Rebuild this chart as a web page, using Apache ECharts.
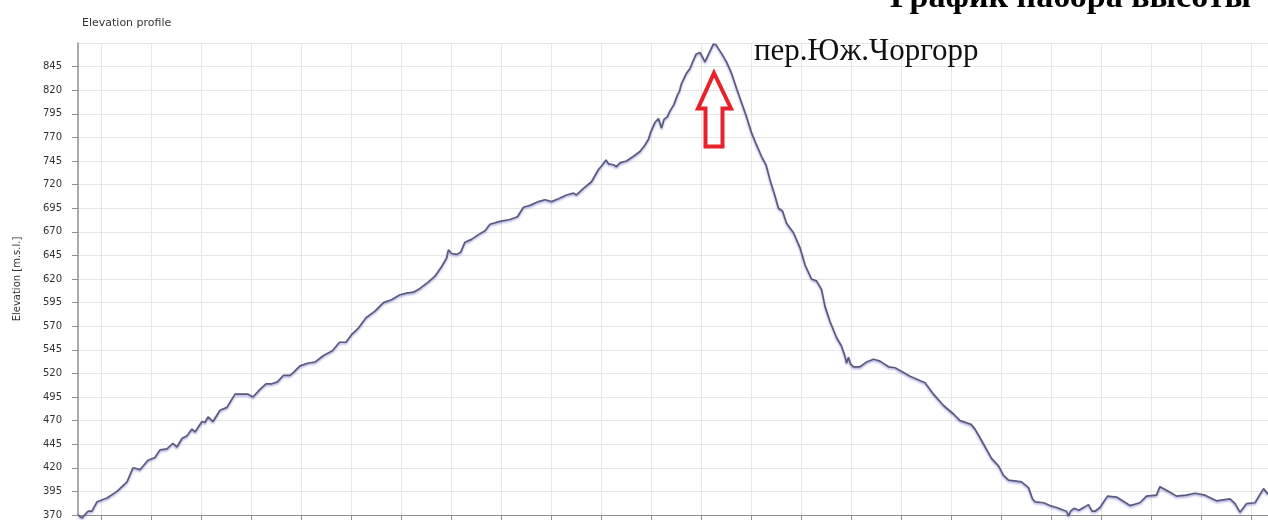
<!DOCTYPE html>
<html>
<head>
<meta charset="utf-8">
<title>Elevation profile</title>
<script src="https://cdn.jsdelivr.net/npm/echarts@6/dist/echarts.min.js"></script>
<style>
  html, body { margin: 0; padding: 0; background: #fff; overflow: hidden; }
  #chart { width: 1268px; height: 520px; }
</style>
</head>
<body>
<div id="chart"></div>
<script>
// дистанция по треку (одна клетка сетки = 1)
const distance = [
  0, 0.08, 0.2, 0.28, 0.38, 0.58, 0.78, 0.98, 1.1, 1.14, 1.24, 1.4, 1.54, 1.64, 1.78, 1.9, 1.98,
  2.08, 2.18, 2.28, 2.34, 2.48, 2.54, 2.6, 2.7, 2.84, 2.98, 3.14, 3.4, 3.5, 3.64, 3.76, 3.88, 3.99,
  4.11, 4.24, 4.31, 4.44, 4.61, 4.74, 4.91, 5.09, 5.23, 5.36, 5.47, 5.61, 5.76, 5.94,
  6.11, 6.27, 6.43, 6.57, 6.71, 6.84, 7.01, 7.14, 7.27, 7.37, 7.41, 7.47, 7.57, 7.65, 7.74, 7.87,
  8.01, 8.14, 8.24, 8.44, 8.64, 8.79, 8.91, 9.04, 9.21, 9.34, 9.47, 9.61, 9.77, 9.91, 9.97,
  10.11, 10.27, 10.41, 10.49, 10.56, 10.61, 10.71, 10.77, 10.84, 10.97, 11.11, 11.24, 11.34, 11.41,
  11.45, 11.54, 11.61, 11.67, 11.72, 11.79, 11.83, 11.87, 11.92, 11.99, 12.03, 12.07, 12.17, 12.24,
  12.31, 12.36, 12.44, 12.54, 12.61, 12.71, 12.76, 12.87, 12.97, 13.07, 13.17, 13.27, 13.37, 13.47,
  13.57, 13.67, 13.76, 13.84, 13.94, 14.01, 14.05, 14.09, 14.17, 14.31, 14.44, 14.54, 14.67, 14.77,
  14.87, 14.94, 15.04, 15.17, 15.27, 15.34, 15.37, 15.41, 15.45, 15.51, 15.64, 15.77, 15.91,
  16.04, 16.21, 16.34, 16.51, 16.64, 16.94, 17.11, 17.31, 17.51, 17.64, 17.86, 17.94,
  18.06, 18.27, 18.41, 18.51, 18.61, 18.87, 19.01, 19.09, 19.14, 19.31, 19.44, 19.57, 19.71, 19.77,
  19.81, 19.85, 19.92, 20.02, 20.11, 20.21, 20.28, 20.34, 20.44, 20.59, 20.77, 21.04, 21.24, 21.37,
  21.57, 21.64, 21.84, 21.97, 22.17, 22.34, 22.54, 22.77, 23.04, 23.14, 23.24, 23.37, 23.54, 23.71, 23.8
];
// высота, м
const elevation = [
  370, 367, 374, 374, 384, 388, 395, 405, 420, 421, 418, 428, 431, 439, 440, 446, 442,
  451, 454, 461, 458, 469, 468, 474, 469, 481, 484, 498, 498, 495, 503, 509, 509, 511,
  518, 518, 521, 528, 531, 532, 539, 544, 553, 553, 561, 568, 579, 586,
  595, 598, 603, 605, 606, 610, 617, 623, 633, 642, 651, 647, 646, 648, 659, 662,
  667, 671, 678, 681, 683, 686, 696, 698, 702, 704, 702, 705, 709, 711, 709,
  716, 723, 736, 741, 746, 742, 741, 739, 743, 745, 750, 755, 762, 768,
  775, 786, 790, 780, 789, 792, 797, 796, 805, 815, 819, 827, 838, 843,
  852, 858, 860, 850, 858, 869, 868, 859, 850, 838, 822, 807, 792, 775,
  762, 750, 741, 725, 708, 695, 697, 692, 679, 669, 653, 635, 620, 618,
  609, 591, 575, 558, 549, 538, 531, 537, 530, 527, 527, 532, 535,
  533, 527, 526, 521, 517, 510, 498, 486, 477, 470, 466, 461,
  450, 430, 422, 412, 407, 405, 399, 387, 384, 383, 380, 378, 375, 374,
  369, 374, 377, 375, 378, 381, 374, 374, 378, 390, 389, 380, 383, 390,
  391, 400, 394, 390, 391, 393, 391, 385, 387, 382, 373, 382, 383, 398, 392
];
// вертикальные линии сетки
const distTicks = [
  0.47, 1.47, 2.47, 3.47, 4.47, 5.47, 6.47, 7.47, 8.47, 9.47, 10.47, 11.47,
  12.47, 13.47, 14.47, 15.47, 16.47, 17.47, 18.47, 19.47, 20.47, 21.47, 22.47, 23.47
];
const elevMin = 370;
const elevMax = 870;
const elevStep = 25;

const chart = echarts.init(document.getElementById('chart'));

const axisColor = '#8f8f8f';
const gridColor = '#e6e6e6';

chart.setOption({
  animation: false,
  backgroundColor: '#fff',
  title: {
    text: 'Elevation profile',
    left: 77,
    top: 13,
    textStyle: { fontFamily: 'DejaVu Sans', fontSize: 11, fontWeight: 'normal', color: '#333' }
  },
  grid: { left: 78, right: 0, top: 43, bottom: 3 },
  xAxis: {
    type: 'value',
    min: 0,
    max: distance[distance.length - 1],
    axisLine: { show: true, onZero: false, lineStyle: { color: axisColor } },
    axisTick: { show: true, length: 5, customValues: distTicks, lineStyle: { color: axisColor } },
    axisLabel: { show: false },
    splitLine: { show: true, lineStyle: { color: gridColor, width: 1 } }
  },
  yAxis: {
    type: 'value',
    min: elevMin,
    max: elevMax,
    interval: elevStep,
    name: 'Elevation [m.s.l.]',
    nameLocation: 'middle',
    nameRotate: 90,
    nameGap: 56,
    nameTextStyle: { fontFamily: 'DejaVu Sans', fontSize: 10, color: '#333' },
    axisLine: { show: true, lineStyle: { color: axisColor, width: 1.5 } },
    axisTick: { show: true, length: 6, lineStyle: { color: axisColor } },
    axisLabel: { showMaxLabel: false, margin: 16, fontFamily: 'DejaVu Sans', fontSize: 10, color: '#333' },
    splitLine: { show: true, lineStyle: { color: gridColor, width: 1 } }
  },
  series: [{
    type: 'line',
    data: distance.map((d, i) => [d, elevation[i]]),
    showSymbol: false,
    clip: false,
    lineStyle: {
      color: '#5a5a7e',
      width: 1.7,
      shadowColor: 'rgba(110,110,210,0.6)',
      shadowBlur: 2,
      shadowOffsetY: 1.5
    }
  }],
  graphic: [
    {
      type: 'text',
      x: 890,
      y: 15,
      z: 100,
      style: {
        text: 'График набора высоты',
        font: 'bold 34px "Liberation Serif"',
        fill: '#000',
        verticalAlign: 'bottom'
      }
    },
    {
      type: 'text',
      x: 754,
      y: 52,
      z: 100,
      style: {
        text: 'пер.Юж.Чоргорр',
        font: '31px "Liberation Serif"',
        fill: '#111',
        verticalAlign: 'middle'
      }
    },
    // красная стрелка на перевал
    {
      type: 'polygon',
      z: 100,
      shape: {
        points: [[714, 73], [731, 108.5], [722.5, 108.5], [722.5, 146.5],
                 [705.5, 146.5], [705.5, 108.5], [698, 108.5]]
      },
      style: { fill: 'none', stroke: '#e8212a', lineWidth: 4, lineJoin: 'miter' }
    }
  ]
});
</script>
</body>
</html>
